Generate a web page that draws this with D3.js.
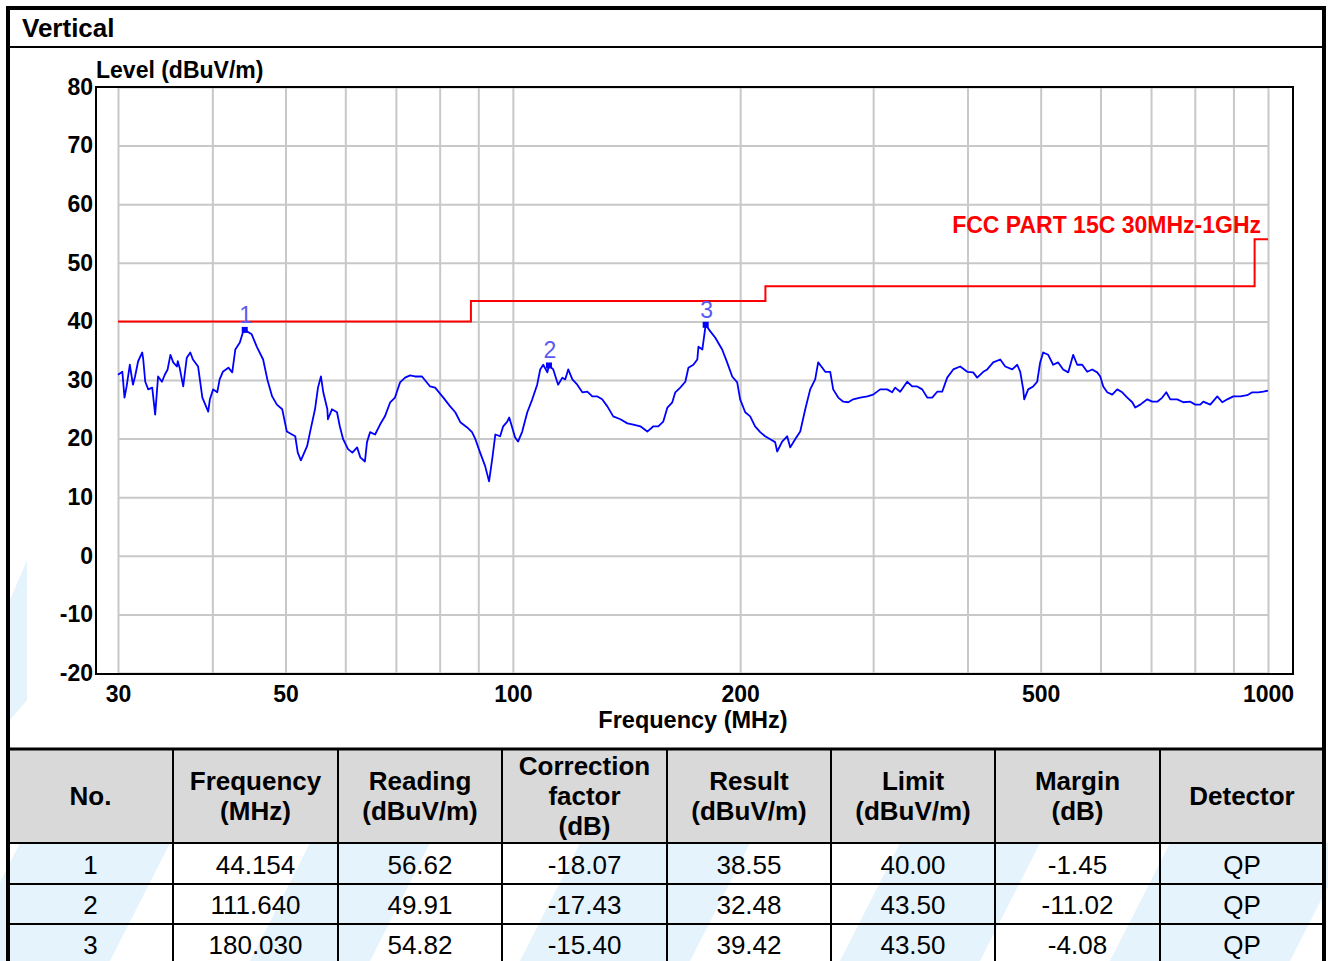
<!DOCTYPE html>
<html>
<head>
<meta charset="utf-8">
<script src="https://cdn.jsdelivr.net/npm/d3@7"></script>
<style>
body { margin: 0; background: #fff; }
svg text { font-family: "Liberation Sans", Arial, sans-serif; }
</style>
</head>
<body>
<svg id="chart" width="1328" height="961"></svg>
<script>
// measured trace (MHz / dBuV/m)
const freqMHz = [30.0,30.4,30.6,30.8,31.1,31.4,31.6,31.9,32.3,32.4,
  32.6,32.9,33.3,33.6,33.9,34.3,34.6,34.9,35.2,35.5,
  35.9,36.0,36.2,36.6,37.0,37.4,37.7,38.3,38.8,39.5,
  39.7,40.1,40.6,40.9,41.3,42.0,42.5,42.9,43.5,43.9,
  44.15,45.1,45.8,46.7,47.3,48.0,48.7,49.5,50.2,51.0,
  51.5,51.9,52.4,53.4,53.9,54.7,55.2,55.7,56.1,56.8,
  56.9,57.6,58.5,59.0,59.6,60.5,61.3,62.2,62.8,63.7,
  64.1,64.7,65.7,66.7,67.7,68.8,69.8,70.9,72.0,73.1,
  74.2,75.8,77.7,78.9,80.9,82.6,83.9,85.2,87.0,88.3,
  89.2,90.5,91.9,93.0,93.9,94.8,96.2,97.1,98.3,98.9,
  99.8,100.7,101.6,102.9,104.5,106.1,107.7,108.7,109.7,111.1,
  111.64,113.1,114.8,116.3,117.3,118.4,119.9,121.7,123.6,125.5,
  127.4,129.4,131.3,133.4,135.8,138.8,141.8,144.4,147.5,150.7,
  153.5,155.8,158.2,160.2,162.6,164.1,166.6,169.2,170.8,173.4,
  175.5,176.1,178.2,180.03,182.6,185.4,189.3,192.2,195.2,198.2,
  200.0,203.1,206.2,209.3,212.6,215.8,219.2,222.5,223.9,227.3,
  230.8,233.0,236.5,240.2,243.9,247.6,251.4,253.7,256.9,259.2,
  263.2,265.6,269.7,273.9,278.1,282.3,288.4,294.7,300.0,306.5,
  313.1,317.9,320.8,325.8,332.8,337.9,343.1,348.4,353.8,359.2,
  364.7,370.3,376.0,383.0,391.2,399.7,407.0,412.0,419.7,424.8,
  432.6,442.0,448.8,458.5,465.5,469.8,474.1,475.5,481.3,488.7,
  494.7,499.2,503.8,511.6,519.4,527.4,535.5,543.8,552.1,558.9,
  567.5,576.2,585.1,594.1,599.6,605.1,612.5,621.9,631.5,641.2,
  651.1,661.1,667.1,677.4,692.0,702.6,713.5,724.4,733.3,742.3,
  758.3,772.3,789.0,801.1,813.4,820.9,838.6,856.7,869.9,883.3,
  899.6,919.0,938.8,953.2,970.8,985.8,1000];
const levelDb = [30.9,31.4,27.0,28.9,32.6,29.2,30.6,33.2,34.7,33.5,
  29.7,28.4,28.7,24.1,30.6,29.7,30.9,31.8,34.3,33.0,
  32.3,33.2,32.1,28.9,33.8,34.7,33.5,32.3,27.0,24.6,
  26.7,28.4,27.9,30.1,31.4,32.1,31.3,35.2,36.4,38.1,
  38.55,37.8,35.7,33.5,30.1,27.2,25.8,25.0,21.2,20.7,
  20.4,17.6,16.3,18.7,21.2,25.0,28.7,30.6,27.9,25.0,
  23.3,25.0,24.5,22.1,19.9,18.2,17.6,18.5,16.8,16.1,
  19.4,21.1,20.7,22.4,23.8,26.2,27.0,29.6,30.4,30.8,
  30.6,30.6,28.9,28.7,27.0,25.5,24.5,22.8,21.9,21.1,
  19.9,17.6,15.3,12.7,16.5,20.7,20.4,22.1,22.9,23.6,
  21.9,20.2,19.5,21.2,24.5,26.7,29.2,31.8,32.6,31.3,
  32.48,31.8,29.2,30.4,30.1,31.8,30.1,29.2,27.9,28.0,
  27.2,27.2,26.7,25.5,23.8,23.3,22.6,22.4,22.1,21.2,
  22.1,22.1,22.9,25.3,26.2,27.9,28.7,29.7,32.1,32.6,
  33.5,35.7,35.2,39.42,38.3,37.2,35.2,33.0,30.6,29.6,
  26.7,24.5,23.8,22.1,21.1,20.4,19.9,19.4,17.8,19.5,
  20.4,18.5,19.9,21.2,25.0,28.4,30.1,33.0,32.1,31.4,
  31.4,28.4,27.0,26.3,26.2,26.7,27.0,27.2,27.5,28.4,
  28.4,27.9,28.7,28.0,29.7,28.9,28.9,28.4,27.0,27.0,
  28.0,28.0,30.4,31.8,32.3,31.4,31.3,30.4,31.4,31.8,
  33.0,33.5,32.3,31.8,32.6,31.4,28.4,26.7,28.4,28.9,
  29.7,33.0,34.7,34.3,32.6,33.0,31.8,31.3,34.3,32.6,
  32.6,31.4,31.8,31.3,30.6,28.9,27.9,27.5,28.4,27.9,
  27.0,26.2,25.3,25.8,26.7,26.3,26.3,27.0,27.9,26.7,
  26.7,26.2,26.3,25.8,25.8,26.3,25.8,27.2,26.2,26.7,
  27.2,27.2,27.4,27.9,27.9,28.0,28.2];

// FCC limit steps
const limitFreq = [30, 88, 88, 216, 216, 960, 960, 1000];
const limitLevel = [40, 40, 43.5, 43.5, 46, 46, 54, 54];
const limitName = 'FCC PART 15C 30MHz-1GHz';

// marker table
const markerNo = ['1', '2', '3'];
const markerFreq = ['44.154', '111.640', '180.030'];
const markerReading = ['56.62', '49.91', '54.82'];
const markerCorr = ['-18.07', '-17.43', '-15.40'];
const markerResult = ['38.55', '32.48', '39.42'];
const markerLimit = ['40.00', '43.50', '43.50'];
const markerMargin = ['-1.45', '-11.02', '-4.08'];
const markerDetector = ['QP', 'QP', 'QP'];

const headers = [['No.'], ['Frequency', '(MHz)'], ['Reading', '(dBuV/m)'],
  ['Correction', 'factor', '(dB)'], ['Result', '(dBuV/m)'], ['Limit', '(dBuV/m)'],
  ['Margin', '(dB)'], ['Detector']];

const yTicks = [-20, -10, 0, 10, 20, 30, 40, 50, 60, 70, 80];
const xTickLabels = [30, 50, 100, 200, 500, 1000];
const xGrid = [30, 40, 50, 60, 70, 80, 90, 100, 200, 300, 400, 500, 600, 700, 800, 900, 1000];

const svg = d3.select('#chart');
const x = d3.scaleLog().domain([30, 1000]).range([118, 1268]);
const y = d3.scaleLinear().domain([-20, 80]).range([673, 87]);

// faint watermark
const wm = svg.append('g').attr('fill', '#e5f3fc');
wm.append('path').attr('d', 'M10,720 L10,600 L27,560 L27,700 Z');
[[-40, 150], [250, 120], [520, 170], [840, 140], [1110, 180]].forEach(b => {
    const x0 = b[0], w = b[1];
    wm.append('path').attr('d',
        `M${x0},961 L${x0 + 60},843 L${x0 + 60 + w},843 L${x0 + w},961 Z`);
});

// grid
svg.append('g')
    .attr('transform', 'translate(0,673)')
    .call(d3.axisBottom(x).tickValues(xGrid).tickSize(-586).tickFormat(''))
    .call(g => g.select('.domain').remove())
    .selectAll('line').attr('stroke', '#c8c8c8').attr('stroke-width', 2);

svg.append('g')
    .attr('transform', 'translate(118,0)')
    .call(d3.axisLeft(y).tickValues(yTicks).tickSize(-1150).tickFormat(''))
    .call(g => g.select('.domain').remove())
    .selectAll('line').attr('stroke', '#c8c8c8').attr('stroke-width', 2);

// frame
svg.append('rect')
    .attr('x', 96).attr('y', 87).attr('width', 1197).attr('height', 587)
    .attr('fill', 'none').attr('stroke', '#000').attr('stroke-width', 2);

// tick labels (plain hyphen for negatives, like the original)
svg.append('g')
    .attr('transform', 'translate(118,0)')
    .call(d3.axisLeft(y).tickValues(yTicks).tickSize(0).tickPadding(25).tickFormat(d => String(d)))
    .call(g => g.select('.domain').remove())
    .selectAll('text')
    .attr('font-size', 23).attr('font-weight', 'bold').attr('fill', '#000')
    .attr('font-family', '"Liberation Sans", Arial, sans-serif');

svg.append('g')
    .attr('transform', 'translate(0,673)')
    .call(d3.axisBottom(x).tickValues(xTickLabels).tickSize(0).tickPadding(13).tickFormat(d => String(d)))
    .call(g => g.select('.domain').remove())
    .selectAll('text')
    .attr('font-size', 23).attr('font-weight', 'bold').attr('fill', '#000')
    .attr('font-family', '"Liberation Sans", Arial, sans-serif');

svg.append('text').attr('x', 693).attr('y', 728).attr('text-anchor', 'middle')
    .attr('font-size', 23.5).attr('font-weight', 'bold').text('Frequency (MHz)');
svg.append('text').attr('x', 96).attr('y', 78)
    .attr('font-size', 23).attr('font-weight', 'bold').text('Level (dBuV/m)');

// limit line
const limitPts = limitFreq.map((f, i) => [f, limitLevel[i]]);
svg.append('path')
    .datum(limitPts)
    .attr('d', d3.line().x(d => x(d[0])).y(d => y(d[1])))
    .attr('fill', 'none').attr('stroke', '#ff0000').attr('stroke-width', 2);
svg.append('text').attr('x', 1261).attr('y', 233).attr('text-anchor', 'end')
    .attr('font-size', 23).attr('font-weight', 'bold').attr('fill', '#ff0000')
    .text(limitName);

// trace
const trace = freqMHz.map((f, i) => [f, levelDb[i]]);
svg.append('path')
    .datum(trace)
    .attr('d', d3.line().x(d => x(d[0])).y(d => y(d[1])))
    .attr('fill', 'none').attr('stroke', '#0000ff').attr('stroke-width', 1.8)
    .attr('stroke-linejoin', 'round');

// markers
markerNo.forEach((n, i) => {
    const mx = x(+markerFreq[i]), my = y(+markerResult[i]);
    svg.append('rect').attr('x', mx - 3).attr('y', my - 3).attr('width', 6).attr('height', 6)
        .attr('fill', '#0000ff');
    svg.append('text').attr('x', mx + 1).attr('y', my - 7).attr('text-anchor', 'middle')
        .attr('font-size', 23).attr('fill', '#5a5af0').text(n);
});

// title block
svg.append('text').attr('x', 22).attr('y', 37)
    .attr('font-size', 26).attr('font-weight', 'bold').text('Vertical');
svg.append('line').attr('x1', 8).attr('x2', 1324).attr('y1', 47).attr('y2', 47)
    .attr('stroke', '#000').attr('stroke-width', 2);

// table
const colX = [8, 173, 338, 502, 667, 831, 995, 1160, 1324];
const rowY = [843, 884, 924, 964];
svg.append('rect').attr('x', 8).attr('y', 749).attr('width', 1316).attr('height', 94)
    .attr('fill', '#d9d9d9');

const tbl = svg.append('g').attr('stroke', '#000');
tbl.append('line').attr('x1', 8).attr('x2', 1324).attr('y1', 749).attr('y2', 749).attr('stroke-width', 3);
rowY.slice(0, 3).forEach(ry => {
    tbl.append('line').attr('x1', 8).attr('x2', 1324).attr('y1', ry).attr('y2', ry).attr('stroke-width', 2);
});
colX.slice(1, 8).forEach(cx => {
    tbl.append('line').attr('x1', cx).attr('x2', cx).attr('y1', 749).attr('y2', 961).attr('stroke-width', 2);
});

headers.forEach((lines, c) => {
    const cx = (colX[c] + colX[c + 1]) / 2;
    const t = svg.append('text').attr('x', cx).attr('text-anchor', 'middle')
        .attr('font-size', 26).attr('font-weight', 'bold');
    const top = 796 - (lines.length - 1) * 15;
    lines.forEach((s, k) => {
        t.append('tspan').attr('x', cx).attr('y', top + k * 30).attr('dy', '0.35em').text(s);
    });
});

const columns = [markerNo, markerFreq, markerReading, markerCorr, markerResult,
    markerLimit, markerMargin, markerDetector];
columns.forEach((col, c) => {
    const cx = (colX[c] + colX[c + 1]) / 2;
    col.forEach((v, r) => {
        svg.append('text').attr('x', cx).attr('y', (rowY[r] + rowY[r + 1]) / 2 + 1)
            .attr('dy', '0.35em').attr('text-anchor', 'middle')
            .attr('font-size', 26).attr('fill', '#000').text(v);
    });
});

// outer border
svg.append('rect').attr('x', 8).attr('y', 8).attr('width', 1316).attr('height', 970)
    .attr('fill', 'none').attr('stroke', '#000').attr('stroke-width', 4);
</script>
</body>
</html>
